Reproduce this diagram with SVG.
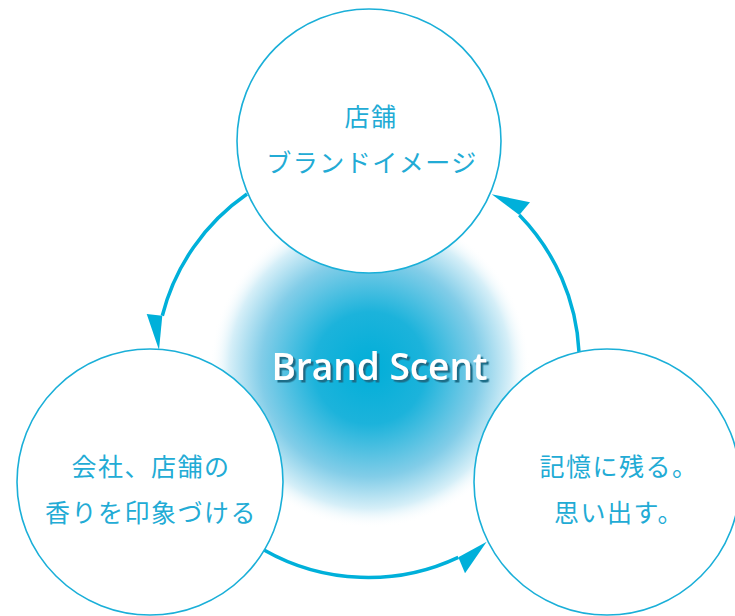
<svg xmlns="http://www.w3.org/2000/svg" width="735" height="616" viewBox="0 0 735 616">
  <style>
    .node { fill: #ffffff; stroke: #1aafd8; stroke-width: 1.6; }
    .lbl { font-family: "Noto Sans CJK JP", "Noto Sans", sans-serif; font-size: 25px; letter-spacing: 1.5px; fill: #22abd5; text-anchor: middle; }
    .conn { fill: none; stroke: #00b0da; stroke-width: 3.5; }
    .head { fill: #00b0da; stroke: none; }
    .title { font-family: "Open Sans", "Liberation Sans", sans-serif; font-weight: 600; font-size: 38px; fill: #ffffff; filter: url(#shadow); }
  </style>
  <defs>
    <radialGradient id="glow" gradientUnits="userSpaceOnUse" cx="370" cy="368" r="160">
      <stop offset="0" stop-color="#00aed8"/>
      <stop offset="0.35" stop-color="#1cb3db"/>
      <stop offset="0.68" stop-color="#82cde8"/>
      <stop offset="0.88" stop-color="#d6eff8"/>
      <stop offset="1" stop-color="#ffffff" stop-opacity="0"/>
    </radialGradient>
    <filter id="shadow" x="-10%" y="-30%" width="120%" height="160%">
      <feDropShadow dx="2.5" dy="2.5" stdDeviation="0.6" flood-color="#1d6d88" flood-opacity="1"/>
    </filter>
  </defs>
  <rect width="735" height="616" fill="#ffffff"/>
  <circle cx="370" cy="368" r="160" fill="url(#glow)"/>

  <g id="connectors">
    <path class="conn" d="M247,194 A211,211 0 0 0 162.3,315.7"/>
    <polygon class="head" points="146.7,314 162.3,315.7 159,350"/>
    <path class="conn" d="M579,352 A211,211 0 0 0 519.3,215"/>
    <polygon class="head" points="530,202.3 519.3,215 491.7,194.3"/>
    <path class="conn" d="M264,550 A211,211 0 0 0 458.3,557.3"/>
    <polygon class="head" points="458.3,557.3 465,573.3 486.7,541.7"/>
  </g>

  <g id="node-top">
    <circle class="node" cx="369" cy="141" r="132"/>
    <text class="lbl" x="371" y="126">店舗</text>
    <text class="lbl" x="372" y="171.5">ブランドイメージ</text>
  </g>
  <g id="node-left">
    <circle class="node" cx="150" cy="482" r="133"/>
    <text class="lbl" x="151" y="475.5">会社、店舗の</text>
    <text class="lbl" x="151" y="521.5">香りを印象づける</text>
  </g>
  <g id="node-right">
    <circle class="node" cx="607" cy="482" r="133"/>
    <text class="lbl" x="619" y="475.5">記憶に残る。</text>
    <text class="lbl" x="619" y="521.5">思い出す。</text>
  </g>

  <g id="title">
    <text class="title" x="271.5" y="380" textLength="216" lengthAdjust="spacingAndGlyphs">Brand Scent</text>
  </g>
</svg>
